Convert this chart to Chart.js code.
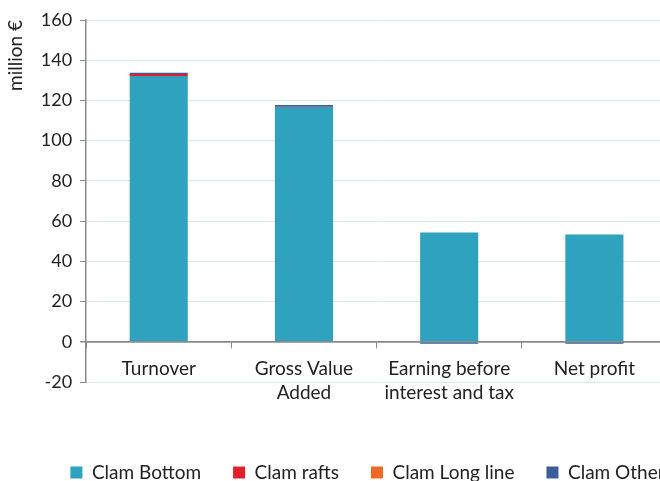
<!DOCTYPE html>
<html><head><meta charset="utf-8">
<script src="https://cdn.jsdelivr.net/npm/chart.js@4"></script>
<style>
html,body{margin:0;padding:0;overflow:hidden;background:#fff;width:660px;height:481px}
#wrap{position:absolute;left:0;top:0;width:668px;height:492px}
</style></head><body>
<div id="wrap"><canvas id="c"></canvas></div>
<script>
const categories = [["Turnover"], ["Gross Value", "Added"], ["Earning before", "interest and tax"], ["Net profit"]];
const clamBottom = [132.1, 116.7, 54.3, 53.3];
const clamRafts = [1.0, 0.2, -0.3, -0.3];
const clamLongLine = [0.1, 0, 0, 0];
const clamOther = [0.6, 0.8, -0.7, -0.7];
const yTicks = [-20, 0, 20, 40, 60, 80, 100, 120, 140, 160];

const FONT = "Lato, 'Open Sans', sans-serif";
const mk = (label, data, color) => ({label, data, backgroundColor: color, borderWidth: 0, barPercentage: 0.4, categoryPercentage: 1.0});

const legendShift = {
  id: 'legendShift',
  afterLayout(chart) {
    const lg = chart.legend;
    if (lg) { lg.left += 34; lg.right += 34; }
  }
};

new Chart(document.getElementById('c'), {
  type: 'bar',
  data: {
    labels: categories,
    datasets: [
      mk('Clam Bottom', clamBottom, '#2fa2bf'),
      mk('Clam rafts', clamRafts, '#e01f2b'),
      mk('Clam Long line', clamLongLine, '#ee6a22'),
      mk('Clam Other', clamOther, '#3a5e9c')
    ]
  },
  plugins: [legendShift],
  options: {
    responsive: true,
    maintainAspectRatio: false,
    animation: false,
    layout: {padding: {top: 20, right: 1, left: 0, bottom: 0}},
    plugins: {
      tooltip: {enabled: false},
      legend: {
        position: 'bottom',
        fullSize: true,
        title: {display: true, text: '', padding: {top: 0, bottom: 39}, font: {size: 10, lineHeight: 1}},
        labels: {boxWidth: 12, boxHeight: 12, padding: 32, color: '#222', font: {family: FONT, size: 19}}
      }
    },
    scales: {
      x: {
        stacked: true,
        position: {y: 0},
        offset: true,
        border: {display: true, color: '#8a8a8a', width: 1.5},
        grid: {drawOnChartArea: false, drawTicks: true, tickLength: 6, offset: true, color: '#8a8a8a'},
        ticks: {color: '#222', padding: 9, maxRotation: 0, font: {family: FONT, size: 19, lineHeight: 1.27}}
      },
      y: {
        stacked: true,
        min: -20, max: 160,
        afterBuildTicks: (s) => { s.ticks = yTicks.map(v => ({value: v})); },
        border: {display: true, color: '#8a8a8a', width: 1.5},
        grid: {
          color: (ctx) => ctx.tick && ctx.tick.value === 0 ? '#8a8a8a' : '#d4ebf3',
          lineWidth: (ctx) => ctx.tick && ctx.tick.value === 0 ? 1.5 : 1,
          tickColor: '#8a8a8a', tickLength: 6
        },
        ticks: {color: '#222', padding: 8, font: {family: FONT, size: 18}},
        title: {display: true, text: 'million €', align: 'end', color: '#222', padding: {top: 4, bottom: 6}, font: {family: FONT, size: 19}}
      }
    }
  }
});
</script>
</body></html>
